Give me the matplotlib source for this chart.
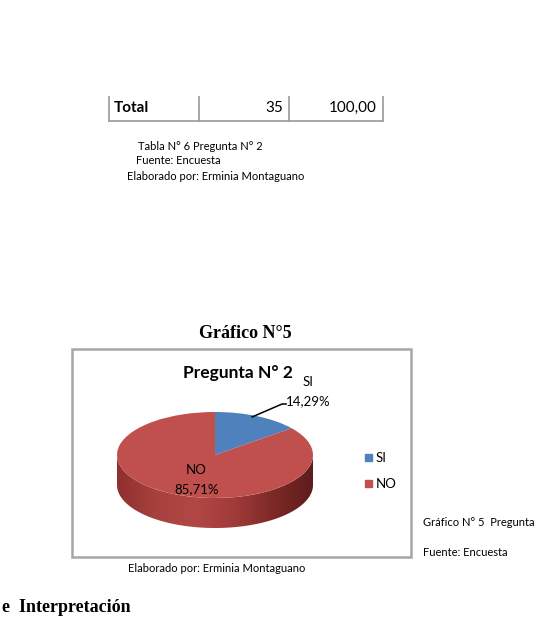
import numpy as np
import matplotlib.pyplot as plt
from matplotlib.colors import LinearSegmentedColormap
from matplotlib.patches import Polygon, Rectangle

# datos
categorias = ['SI', 'NO']
frecuencias = [5, 30]
total = 35
porcentaje_total = '100,00'
colores = ['#4F81BD', '#C0504D']

W, H = 539, 619
fig = plt.figure(figsize=(W / 100, H / 100), dpi=100)
ax = fig.add_axes([0, 0, 1, 1])
ax.set_xlim(0, W)
ax.set_ylim(H, 0)
ax.axis('off')

sans = 'Lato'

# fila "Total" de la tabla
for x in [109, 199, 289, 383]:
    ax.plot([x, x], [97, 121], color='#a0a0a0', lw=1.3)
ax.plot([109, 383], [121, 121], color='#a0a0a0', lw=1.3)
ax.text(114, 108, 'Total', fontsize=11, fontweight='bold', family=sans, va='center')
ax.text(283, 108, str(total), fontsize=11, family=sans, va='center', ha='right')
ax.text(377, 108, porcentaje_total, fontsize=11, family=sans, va='center', ha='right')

ax.text(138, 147, 'Tabla N° 6 Pregunta N° 2', fontsize=8, family=sans, va='center')
ax.text(136, 161, 'Fuente: Encuesta', fontsize=8, family=sans, va='center')
ax.text(127, 176, 'Elaborado por: Erminia Montaguano', fontsize=8, family=sans, va='center')

# titulo y marco del grafico
ax.text(245, 334, 'Gráfico N°5', fontsize=13, fontweight='bold',
        family='Liberation Serif', ha='center', va='center')
ax.add_patch(Rectangle((72, 349), 339, 208, fill=False, ec='#a6a6a6', lw=1.8))
ax.text(238, 373, 'Pregunta N° 2', fontsize=12.5, fontweight='bold',
        family=sans, ha='center', va='center')

# leyenda
for i, (cat, col) in enumerate(zip(categorias, colores)):
    y = 458 + i * 26
    ax.add_patch(Rectangle((365, y - 4), 7, 7, color=col))
    ax.text(376, y, cat, fontsize=9.5, family=sans, va='center')

ax.text(128, 568, 'Elaborado por: Erminia Montaguano', fontsize=8, family=sans, va='center')
ax.text(423, 523, 'Gráfico N° 5  Pregunta', fontsize=8, family=sans, va='center')
ax.text(423, 552, 'Fuente: Encuesta', fontsize=8, family=sans, va='center')
ax.text(2, 607, 'e  Interpretación', fontsize=13, fontweight='bold',
        family='Liberation Serif', va='center')

# pastel "3D": cara superior con ax.pie, lateral con gradiente
px0, px1, py0, py1 = 105, 325, 405, 535
a, b, cy = 98, 43, 455
pax = fig.add_axes([px0 / W, (H - py1) / H, (px1 - px0) / W, (py1 - py0) / H])
pax.patch.set_visible(False)
wedges, _ = pax.pie(frecuencias, colors=colores, startangle=90, counterclock=False,
                    wedgeprops=dict(linewidth=0))
for w in wedges:
    w.set_zorder(3)
pax.axis('off')

d = 30 / b
t = np.linspace(np.pi, 2 * np.pi, 200)
top = np.column_stack([np.cos(t), np.sin(t)])
bot = np.column_stack([np.cos(t[::-1]), np.sin(t[::-1]) - d])
lado = Polygon(np.vstack([top, bot]), closed=True, fc='none', ec='none')
pax.add_patch(lado)
cmap = LinearSegmentedColormap.from_list(
    'lado', ['#8e302e', '#a8413e', '#b24845', '#a03b39', '#7c2927', '#5e1d1c'])
grad = np.linspace(0, 1, 256).reshape(1, -1)
im = pax.imshow(grad, cmap=cmap, extent=[-1, 1, -1 - d, 0], aspect='auto', zorder=1)
im.set_clip_path(lado)

cx_half = (px1 - px0) / 2 / a
pax.set_aspect('auto')
pax.set_xlim(-cx_half, cx_half)
pax.set_ylim(-(py1 - cy) / b, (cy - py0) / b)

# etiquetas de datos
pct = [f'{v / total * 100:.2f}'.replace('.', ',') + '%' for v in frecuencias]
pax.text(-0.19, -0.35, categorias[1], fontsize=9.5, family=sans, ha='center', va='center', zorder=5)
pax.text(-0.19, -0.79, pct[1], fontsize=9.5, family=sans, ha='center', va='center', zorder=5)
pax.text(0.95, 1.70, categorias[0], fontsize=9.5, family=sans, ha='center', va='center', zorder=5)
pax.text(0.95, 1.26, pct[0], fontsize=9.5, family=sans, ha='center', va='center', zorder=5)
pax.plot([0.378, 0.684, 0.725], [0.884, 1.186, 1.186], color='black', lw=1.1,
         clip_on=False, zorder=5)

fig.savefig('out.png', dpi=100)
